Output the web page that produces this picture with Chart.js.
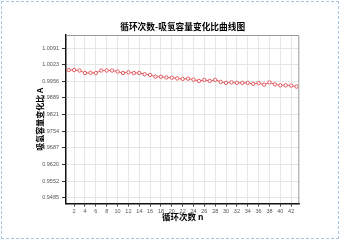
<!DOCTYPE html>
<html><head><meta charset="utf-8">
<script src="https://cdn.jsdelivr.net/npm/chart.js@4"></script>
<style>
html,body{margin:0;padding:0;background:#fff;}
#wrap{position:relative;width:340px;height:240px;}
#frame{position:absolute;left:1px;top:1px;width:336px;height:236px;border:1px dashed #a8c6e6;pointer-events:none;}
canvas{display:block;}
</style>
</head><body>
<div id="wrap"><canvas id="c" width="340" height="240"></canvas><div id="frame"></div></div>
<script>
const cycles=[1,2,3,4,5,6,7,8,9,10,11,12,13,14,15,16,17,18,19,20,21,22,23,24,25,26,27,28,29,30,31,32,33,34,35,36,37,38,39,40,41,42,43];
const ratio=[1.0002,1.0002,1.0000,0.9990,0.9991,0.9990,1.0000,1.0000,1.0000,0.9996,0.9990,0.9993,0.9990,0.9990,0.9985,0.9982,0.9975,0.9975,0.9972,0.9971,0.9968,0.9966,0.9967,0.9963,0.9958,0.9962,0.9958,0.9962,0.9954,0.9950,0.9952,0.9950,0.9950,0.9950,0.9946,0.9949,0.9943,0.9952,0.9944,0.9940,0.9940,0.9939,0.9935];
const yTicks=[0.9485,0.9552,0.9620,0.9687,0.9754,0.9821,0.9889,0.9956,1.0023,1.0091];
const xTicks=[2,4,6,8,10,12,14,16,18,20,22,24,26,28,30,32,34,36,38,40,42];
const titleText='循环次数-吸氢容量变化比曲线图';
const xTitle='循环次数 n';
const yTitle='吸氢容量变化比 A';

const cjk='"Noto Sans CJK SC", sans-serif';
const num='"Liberation Sans", Arial, sans-serif';

const framePlugin={
  id:'framePlugin',
  afterDatasetsDraw(chart){
    const a=chart.chartArea, ctx=chart.ctx;
    ctx.save();
    ctx.strokeStyle='#9a9a9a';
    ctx.lineWidth=1;
    ctx.beginPath();
    ctx.moveTo(a.left,a.top+0.5);
    ctx.lineTo(a.right-0.5,a.top+0.5);
    ctx.lineTo(a.right-0.5,a.bottom);
    ctx.stroke();
    ctx.restore();
  },
  afterDraw(chart){
    const a=chart.chartArea, ctx=chart.ctx;
    ctx.save();
    ctx.font='bold 8.7px '+cjk;
    ctx.fillStyle='#000';
    ctx.textAlign='center';
    ctx.textBaseline='middle';
    ctx.fillText(titleText,(a.left+a.right)/2,26.5);
    ctx.restore();
  }
};

new Chart(document.getElementById('c'),{
  type:'line',
  data:{datasets:[{
    data:cycles.map((c,i)=>({x:c,y:ratio[i]})),
    borderColor:'#e25a5e',
    borderWidth:1,
    pointRadius:1.7,
    pointBorderWidth:1,
    pointBackgroundColor:'#ffffff',
    pointBorderColor:'#e25a5e',
    tension:0
  }]},
  options:{
    responsive:false,
    animation:false,
    devicePixelRatio:1,
    layout:{padding:{top:35,left:0,right:40.7,bottom:0}},
    plugins:{legend:{display:false},title:{display:false},tooltip:{enabled:false}},
    scales:{
      x:{
        type:'linear',min:0.5,max:43.5,
        afterBuildTicks:s=>{s.ticks=xTicks.map(v=>({value:v}));},
        afterFit:s=>{s.height=36.5;},
        grid:{color:'#e6e6e6',tickColor:'#333',tickLength:3,lineWidth:1},
        border:{color:'#111',width:1.5},
        ticks:{font:{size:5.5,family:num},color:'#555',padding:2,maxRotation:0,autoSkip:false,callback:v=>String(v)},
        title:{display:true,text:xTitle,font:{size:8.5,weight:'bold',family:cjk},color:'#000',padding:{top:2,bottom:17.9}}
      },
      y:{
        type:'linear',min:0.9461,max:1.0144,
        afterBuildTicks:s=>{s.ticks=yTicks.map(v=>({value:v}));},
        afterFit:s=>{s.width=66;},
        grid:{color:'#e6e6e6',tickColor:'#333',tickLength:4,lineWidth:1},
        border:{color:'#111',width:1.5},
        ticks:{font:{size:5.5,family:num},color:'#555',padding:3,autoSkip:false,callback:v=>Number(v).toFixed(4)},
        title:{display:true,text:yTitle,font:{size:8,weight:'bold',family:cjk},color:'#000',padding:{top:35.2,bottom:0}}
      }
    }
  },
  plugins:[framePlugin]
});
</script>
</body></html>
